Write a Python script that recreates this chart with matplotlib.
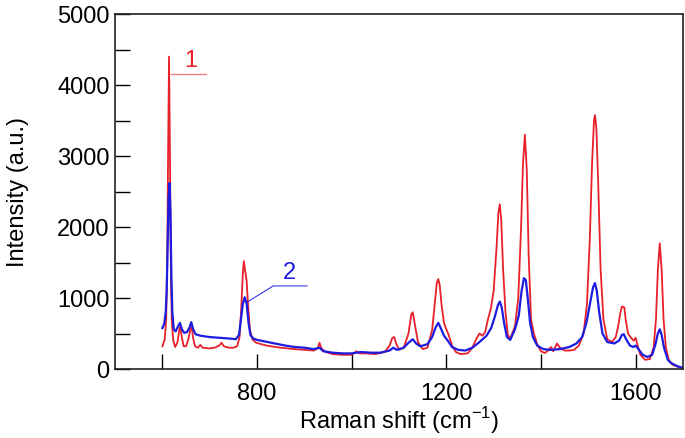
import matplotlib
matplotlib.use("Agg")
import matplotlib.pyplot as plt
import numpy as np
from matplotlib.ticker import MultipleLocator, FixedLocator

plt.rcParams["font.family"] = ["Liberation Sans", "DejaVu Sans"]
plt.rcParams["axes.unicode_minus"] = False

# spectrum 1 (red)
shift_1 = [600, 605, 608, 610, 612, 614, 616, 618, 620, 623, 627, 632, 636, 638, 641, 645,
           650, 655, 659, 662, 665, 669, 675, 680, 685, 700, 710, 720, 725, 730, 740, 750,
           758, 763, 767, 770, 772, 775, 778, 781, 785, 790, 798, 820, 850, 880, 900, 920,
           928, 932, 936, 945, 960, 980, 1000, 1010, 1016, 1030, 1050, 1070, 1080, 1086,
           1090, 1094, 1100, 1110, 1120, 1126, 1129, 1133, 1140, 1150, 1160, 1170, 1176,
           1180, 1183, 1186, 1190, 1195, 1200, 1205, 1212, 1220, 1230, 1245, 1255, 1263,
           1270, 1276, 1282, 1288, 1294, 1300, 1306, 1310, 1313, 1316, 1320, 1325, 1330,
           1335, 1345, 1352, 1358, 1362, 1366, 1370, 1374, 1379, 1385, 1392, 1400, 1408,
           1415, 1421, 1426, 1434, 1440, 1450, 1460, 1470, 1480, 1490, 1497, 1503, 1508,
           1512, 1514, 1517, 1521, 1526, 1532, 1540, 1550, 1558, 1563, 1568, 1571, 1576,
           1579, 1584, 1590, 1596, 1600, 1604, 1610, 1620, 1630, 1638, 1643, 1647, 1651,
           1655, 1659, 1664, 1670, 1678, 1690, 1700]
intensity_1 = [320, 420, 700, 1400, 3000, 4400, 3000, 1300, 650, 400, 310, 380, 560, 590, 450, 320,
               320, 420, 560, 590, 430, 320, 300, 340, 300, 290, 300, 330, 370, 320, 300, 300,
               320, 450, 900, 1350, 1520, 1380, 1240, 900, 550, 420, 370, 330, 300, 280, 270, 260,
               290, 370, 290, 240, 210, 200, 200, 250, 220, 220, 210, 240, 330, 440,
               450, 360, 270, 300, 500, 770, 800, 650, 380, 280, 300, 550, 950,
               1220, 1267, 1180, 900, 650, 560, 480, 330, 240, 210, 220, 300, 420,
               500, 470, 520, 700, 850, 1100, 1700, 2200, 2320, 2100, 1400, 800, 480,
               430, 600, 1000, 2000, 2900, 3300, 2800, 1600, 700, 500, 350, 250, 225,
               260, 310, 250, 360, 300, 260, 260, 270, 330, 500, 900, 1800, 2900,
               3500, 3576, 3400, 2600, 1400, 700, 420, 380, 450, 600, 800, 880, 870,
               700, 500, 440, 400, 440, 340, 200, 130, 140, 300, 700, 1400, 1770,
               1400, 700, 300, 130, 60, 30, 10]

# spectrum 2 (blue)
shift_2 = [600, 604, 607, 609, 611, 613, 615, 617, 619, 621, 624, 628, 633, 637, 641, 646,
           652, 657, 661, 665, 670, 680, 700, 720, 740, 755, 762, 766, 770, 774, 778, 782,
           786, 792, 800, 830, 860, 880, 900, 920, 932, 940, 960, 980, 1000, 1020, 1040,
           1060, 1080, 1088, 1095, 1110, 1120, 1129, 1136, 1145, 1160, 1170, 1177, 1183,
           1188, 1195, 1203, 1212, 1225, 1240, 1255, 1270, 1285, 1295, 1303, 1309, 1313,
           1317, 1322, 1328, 1335, 1345, 1353, 1359, 1364, 1368, 1372, 1377, 1383, 1392,
           1405, 1420, 1440, 1460, 1475, 1487, 1496, 1503, 1510, 1514, 1518, 1523, 1530,
           1540, 1555, 1565, 1571, 1575, 1580, 1588, 1595, 1600, 1606, 1615, 1625, 1635,
           1642, 1647, 1651, 1655, 1660, 1668, 1675, 1688, 1700]
intensity_2 = [577, 640, 800, 1100, 1700, 2400, 2620, 2200, 1300, 800, 560, 530, 600, 650, 560, 510,
               520, 580, 660, 560, 490, 470, 450, 440, 430, 420, 480, 700, 920, 1010, 920, 650,
               480, 430, 410, 370, 330, 310, 300, 280, 300, 250, 230, 220, 220, 240, 230,
               230, 260, 300, 270, 300, 370, 420, 360, 320, 350, 450, 580, 650,
               580, 470, 400, 310, 270, 260, 300, 380, 470, 580, 750, 900, 950,
               870, 650, 450, 410, 560, 750, 1100, 1280, 1250, 1000, 650, 450, 330,
               280, 270, 280, 310, 360, 450, 650, 900, 1150, 1210, 1100, 800, 500,
               380, 360, 400, 480, 490, 420, 330, 310, 330, 280, 200, 170, 200,
               350, 500, 560, 480, 300, 130, 84, 40, 15]

RED = "#e8202a"
BLUE = "#1c1ce0"

fig = plt.figure(figsize=(6.85, 4.38), dpi=100)
ax = fig.add_axes([0.168, 0.1575, 0.829, 0.8105])

ax.plot(shift_1, intensity_1, color=RED, lw=1.3)
ax.plot(shift_2, intensity_2, color=BLUE, lw=1.6)

# curve labels with leader lines
ax.plot([618, 693], [4160, 4160], color="#f08080", lw=1.0)
ax.text(660, 4250, "1", color=RED, fontsize=17, ha="center", va="baseline")
ax.plot([781, 834, 906], [950, 1170, 1170], color=BLUE, lw=0.7)
ax.text(869, 1270, "2", color=BLUE, fontsize=17, ha="center", va="baseline")

ax.set_xlim(500, 1700)
ax.set_ylim(0, 5000)
ax.xaxis.set_major_locator(FixedLocator([800, 1200, 1600]))
ax.xaxis.set_minor_locator(FixedLocator([600, 1000, 1400]))
ax.yaxis.set_major_locator(MultipleLocator(1000))
ax.yaxis.set_minor_locator(MultipleLocator(500))
ax.tick_params(which="both", direction="in", length=11, width=1.0, labelsize=17)
ax.tick_params(axis="x", which="both", top=False, pad=10)
ax.tick_params(axis="y", which="both", right=False, pad=4)
for sp in ax.spines.values():
    sp.set_linewidth(1.2)
    sp.set_color("#222222")

ax.set_xlabel("Raman shift (cm$^{\\mathregular{-1}}$)", fontsize=17, labelpad=0)
ax.set_ylabel("Intensity (a.u.)", fontsize=17, labelpad=20)

fig.savefig("out.png", dpi=100)
